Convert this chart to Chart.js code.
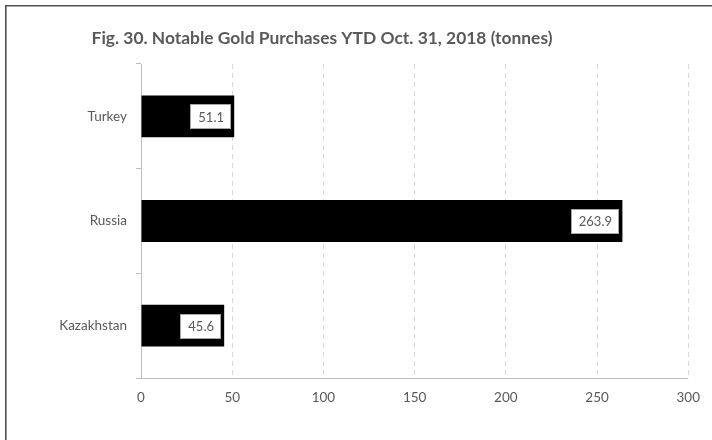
<!DOCTYPE html>
<html>
<head>
<meta charset="utf-8">
<script src="https://cdn.jsdelivr.net/npm/chart.js@4"></script>
<style>
  html, body { margin: 0; padding: 0; background: #fff; }
  #wrap { width: 712px; height: 440px; }
</style>
</head>
<body>
<div id="wrap"><canvas id="goldChart" width="712" height="440"></canvas></div>
<script>
// data
const countries = ['Turkey', 'Russia', 'Kazakhstan'];
const tonnes = [51.1, 263.9, 45.6];
const xTicks = [0, 50, 100, 150, 200, 250, 300];
const titleText = 'Fig. 30. Notable Gold Purchases YTD Oct. 31, 2018 (tonnes)';

const grey = '#595959';
const fontFamily = 'Lato, "Open Sans", sans-serif';

// frame (only top and left edges are visible, the picture is cropped) + title
const framePlugin = {
  id: 'frame',
  beforeDraw(chart) {
    const c = chart.ctx;
    c.save();
    c.fillStyle = '#fff';
    c.fillRect(0, 0, chart.width, chart.height);
    c.strokeStyle = '#505050';
    c.lineWidth = 1.6;
    c.beginPath();
    c.moveTo(5.8, chart.height);
    c.lineTo(5.8, 5.8);
    c.lineTo(chart.width, 5.8);
    c.stroke();
    // title, centred as in the original (wider) figure
    c.fillStyle = grey;
    c.font = 'bold 17.4px ' + fontFamily;
    c.textAlign = 'center';
    c.textBaseline = 'middle';
    c.fillText(titleText, 322, 38);
    c.restore();
  }
};

// white boxed value labels at the end of each bar
const valueLabels = {
  id: 'valueLabels',
  afterDatasetsDraw(chart) {
    const c = chart.ctx;
    const meta = chart.getDatasetMeta(0);
    c.save();
    c.font = '13px ' + fontFamily;
    c.textBaseline = 'middle';
    c.textAlign = 'right';
    meta.data.forEach((bar, i) => {
      const txt = String(tonnes[i]);
      const w = Math.round(c.measureText(txt).width + 14);
      const h = 24;
      const right = Math.round(bar.x - 4);
      const top = Math.round(bar.y - h / 2);
      c.fillStyle = '#fff';
      c.fillRect(right - w, top, w, h);
      c.strokeStyle = '#a6a6a6';
      c.lineWidth = 1;
      c.strokeRect(right - w + 0.5, top + 0.5, w, h);
      c.fillStyle = grey;
      c.fillText(txt, right - 6, bar.y + 1);
    });
    c.restore();
  }
};

// solid bottom axis line, running out past the y axis like a tick
const axisLine = {
  id: 'axisLine',
  beforeDatasetsDraw(chart) {
    const a = chart.chartArea;
    const c = chart.ctx;
    c.save();
    c.strokeStyle = '#bfbfbf';
    c.lineWidth = 1;
    c.beginPath();
    c.moveTo(a.left - 5, Math.round(a.bottom) + 0.5);
    c.lineTo(a.right, Math.round(a.bottom) + 0.5);
    c.stroke();
    c.restore();
  }
};

const ctx = document.getElementById('goldChart').getContext('2d');
new Chart(ctx, {
  type: 'bar',
  data: {
    labels: countries,
    datasets: [{
      data: tonnes,
      backgroundColor: '#000',
      borderWidth: 0,
      barPercentage: 0.4,
      categoryPercentage: 1
    }]
  },
  options: {
    indexAxis: 'y',
    responsive: false,
    animation: false,
    layout: { padding: { left: 0, right: 19, top: 64, bottom: 0 } },
    plugins: {
      legend: { display: false },
      tooltip: { enabled: false },
      title: { display: false }
    },
    scales: {
      x: {
        min: 0,
        max: 300,
        afterBuildTicks: s => { s.ticks = xTicks.map(v => ({ value: v })); },
        afterFit: s => { s.height = 62; },
        grid: {
          color: '#d9d9d9',
          drawTicks: false,
          tickLength: 0
        },
        border: { display: false, dash: [5, 4] },
        ticks: {
          color: grey,
          font: { family: fontFamily, size: 13.5 },
          padding: 12
        }
      },
      y: {
        afterFit: s => { s.width = 141; },
        grid: {
          offset: true,
          drawOnChartArea: false,
          color: '#bfbfbf',
          tickLength: 5
        },
        border: { color: '#bfbfbf' },
        ticks: {
          color: grey,
          font: { family: fontFamily, size: 13.5 },
          padding: 9
        }
      }
    }
  },
  plugins: [framePlugin, valueLabels, axisLine]
});
</script>
</body>
</html>
